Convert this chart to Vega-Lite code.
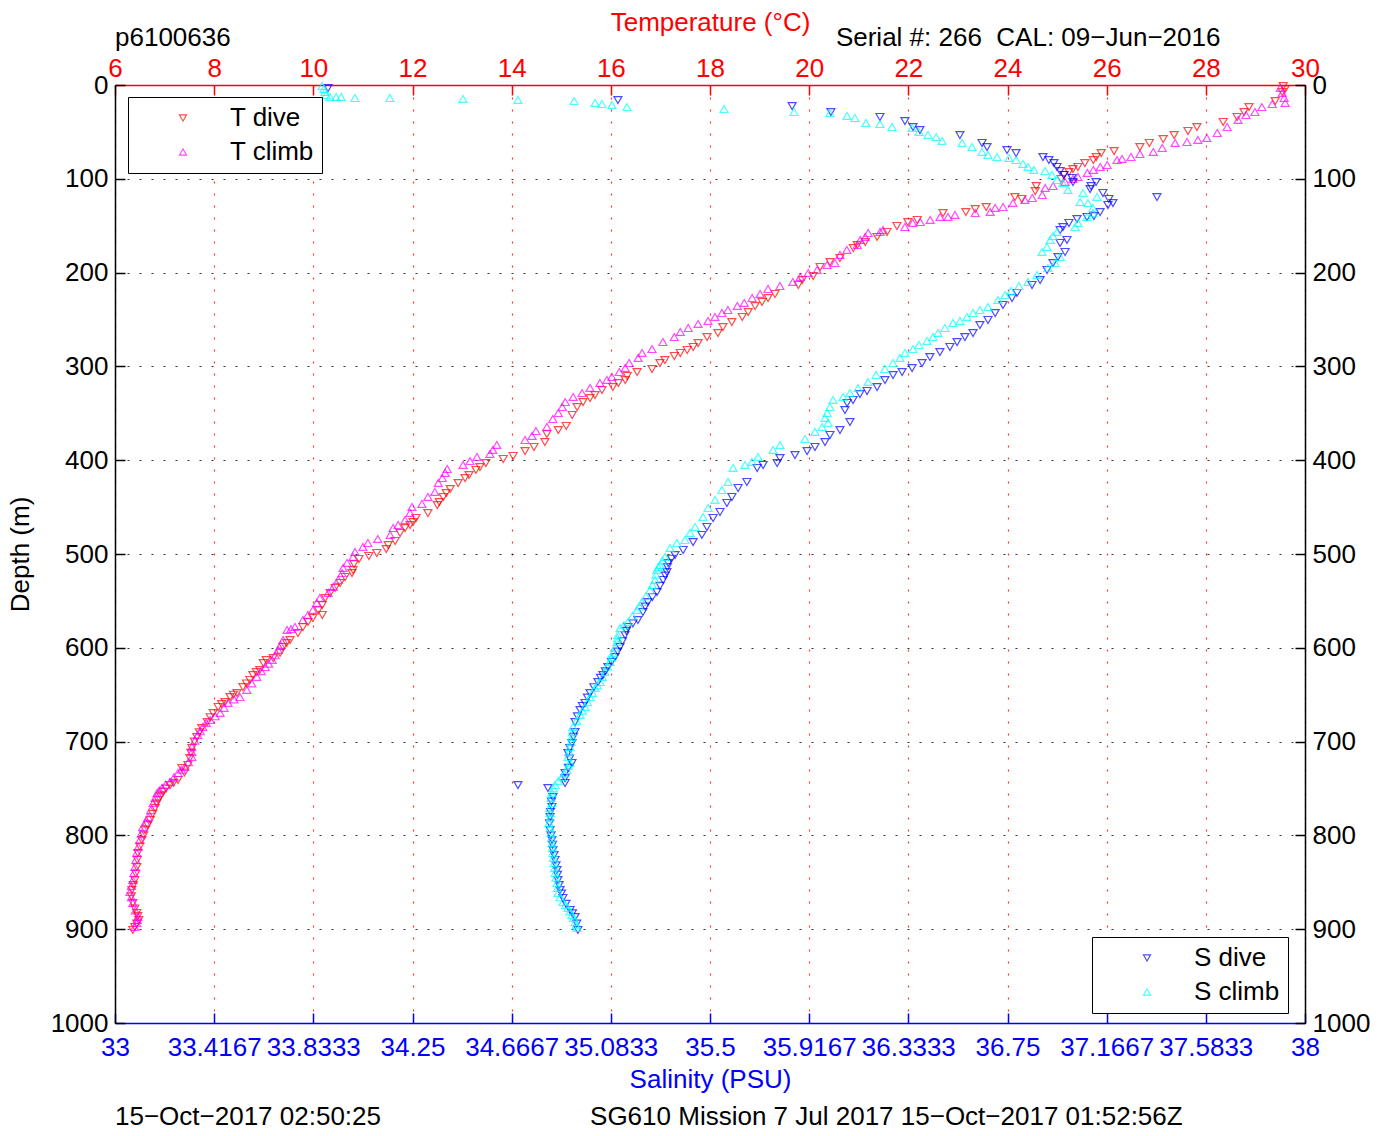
{
  "$schema": "https://vega.github.io/schema/vega-lite/v6.json",
  "width": 1190,
  "height": 938,
  "autosize": {"type": "none"},
  "padding": {"left": 115, "top": 85, "right": 85, "bottom": 113},
  "background": "white",
  "config": {
    "font": "Liberation Sans",
    "view": {"stroke": null},
    "axis": {"labelFont": "Liberation Sans", "titleFont": "Liberation Sans", "titleFontWeight": "normal", "labelFontSize": 26, "titleFontSize": 26, "labelFlush": false, "labelOverlap": false, "labelBound": false, "tickSize": -10, "tickWidth": 1.5, "domainWidth": 1.5, "labelPadding": 17}
  },
  "datasets": {
    "temp": [
      {"series":"T dive","temperature":29.60,"depth":4.3},{"series":"T dive","temperature":29.56,"depth":1.1},{"series":"T dive","temperature":29.54,"depth":7.5},{"series":"T dive","temperature":29.40,"depth":17.1},{"series":"T dive","temperature":28.87,"depth":23.5},{"series":"T dive","temperature":28.77,"depth":28.8},{"series":"T dive","temperature":28.63,"depth":34.1},{"series":"T dive","temperature":28.35,"depth":39.4},{"series":"T dive","temperature":27.82,"depth":44.8},{"series":"T dive","temperature":27.64,"depth":49.0},{"series":"T dive","temperature":27.36,"depth":53.3},{"series":"T dive","temperature":27.14,"depth":57.6},{"series":"T dive","temperature":26.86,"depth":61.8},{"series":"T dive","temperature":26.67,"depth":66.1},{"series":"T dive","temperature":26.15,"depth":70.4},{"series":"T dive","temperature":25.89,"depth":72.5},{"series":"T dive","temperature":25.79,"depth":76.8},{"series":"T dive","temperature":25.73,"depth":80.0},{"series":"T dive","temperature":25.56,"depth":83.2},{"series":"T dive","temperature":25.42,"depth":87.4},{"series":"T dive","temperature":25.32,"depth":89.6},{"series":"T dive","temperature":25.24,"depth":92.8},{"series":"T dive","temperature":25.14,"depth":95.9},{"series":"T dive","temperature":25.08,"depth":100.2},{"series":"T dive","temperature":24.58,"depth":107.7},{"series":"T dive","temperature":24.56,"depth":113.0},{"series":"T dive","temperature":24.15,"depth":119.4},{"series":"T dive","temperature":24.29,"depth":121.5},{"series":"T dive","temperature":23.57,"depth":130.1},{"series":"T dive","temperature":23.35,"depth":132.2},{"series":"T dive","temperature":23.16,"depth":135.4},{"series":"T dive","temperature":22.70,"depth":136.5},{"series":"T dive","temperature":22.18,"depth":143.9},{"series":"T dive","temperature":21.99,"depth":146.1},{"series":"T dive","temperature":21.77,"depth":150.3},{"series":"T dive","temperature":21.57,"depth":156.7},{"series":"T dive","temperature":21.37,"depth":162.0},{"series":"T dive","temperature":21.13,"depth":167.4},{"series":"T dive","temperature":20.97,"depth":170.6},{"series":"T dive","temperature":20.89,"depth":173.8},{"series":"T dive","temperature":20.62,"depth":184.4},{"series":"T dive","temperature":20.42,"depth":188.7},{"series":"T dive","temperature":20.22,"depth":194.0},{"series":"T dive","temperature":20.08,"depth":203.6},{"series":"T dive","temperature":19.86,"depth":207.9},{"series":"T dive","temperature":19.78,"depth":213.2},{"series":"T dive","temperature":19.31,"depth":222.8},{"series":"T dive","temperature":19.17,"depth":227.1},{"series":"T dive","temperature":19.05,"depth":231.3},{"series":"T dive","temperature":18.91,"depth":235.6},{"series":"T dive","temperature":18.77,"depth":242.0},{"series":"T dive","temperature":18.65,"depth":247.3},{"series":"T dive","temperature":18.44,"depth":252.7},{"series":"T dive","temperature":18.26,"depth":258.0},{"series":"T dive","temperature":18.16,"depth":264.4},{"series":"T dive","temperature":17.94,"depth":268.7},{"series":"T dive","temperature":17.76,"depth":275.1},{"series":"T dive","temperature":17.66,"depth":279.3},{"series":"T dive","temperature":17.54,"depth":282.5},{"series":"T dive","temperature":17.40,"depth":285.7},{"series":"T dive","temperature":17.28,"depth":288.9},{"series":"T dive","temperature":17.09,"depth":293.2},{"series":"T dive","temperature":16.99,"depth":296.4},{"series":"T dive","temperature":16.83,"depth":302.8},{"series":"T dive","temperature":16.53,"depth":306.0},{"series":"T dive","temperature":16.33,"depth":310.2},{"series":"T dive","temperature":16.29,"depth":314.5},{"series":"T dive","temperature":16.15,"depth":317.7},{"series":"T dive","temperature":16.04,"depth":322.0},{"series":"T dive","temperature":15.82,"depth":325.2},{"series":"T dive","temperature":15.68,"depth":330.5},{"series":"T dive","temperature":15.58,"depth":333.7},{"series":"T dive","temperature":15.44,"depth":338.0},{"series":"T dive","temperature":15.32,"depth":343.3},{"series":"T dive","temperature":15.22,"depth":351.8},{"series":"T dive","temperature":15.10,"depth":363.5},{"series":"T dive","temperature":14.94,"depth":367.8},{"series":"T dive","temperature":14.71,"depth":372.1},{"series":"T dive","temperature":14.67,"depth":380.6},{"series":"T dive","temperature":14.45,"depth":385.9},{"series":"T dive","temperature":14.27,"depth":390.2},{"series":"T dive","temperature":14.03,"depth":395.5},{"series":"T dive","temperature":13.83,"depth":398.7},{"series":"T dive","temperature":13.48,"depth":403.0},{"series":"T dive","temperature":13.36,"depth":407.3},{"series":"T dive","temperature":13.28,"depth":410.4},{"series":"T dive","temperature":13.14,"depth":415.8},{"series":"T dive","temperature":13.06,"depth":419.0},{"series":"T dive","temperature":12.92,"depth":424.3},{"series":"T dive","temperature":12.76,"depth":430.7},{"series":"T dive","temperature":12.68,"depth":435.0},{"series":"T dive","temperature":12.62,"depth":439.2},{"series":"T dive","temperature":12.54,"depth":444.6},{"series":"T dive","temperature":12.50,"depth":447.8},{"series":"T dive","temperature":12.31,"depth":456.3},{"series":"T dive","temperature":12.07,"depth":461.6},{"series":"T dive","temperature":12.01,"depth":465.9},{"series":"T dive","temperature":11.95,"depth":469.1},{"series":"T dive","temperature":11.85,"depth":472.3},{"series":"T dive","temperature":11.75,"depth":477.6},{"series":"T dive","temperature":11.65,"depth":486.1},{"series":"T dive","temperature":11.51,"depth":490.4},{"series":"T dive","temperature":11.47,"depth":494.7},{"series":"T dive","temperature":11.28,"depth":498.9},{"series":"T dive","temperature":11.12,"depth":502.1},{"series":"T dive","temperature":10.92,"depth":505.3},{"series":"T dive","temperature":10.82,"depth":510.7},{"series":"T dive","temperature":10.80,"depth":517.1},{"series":"T dive","temperature":10.78,"depth":520.3},{"series":"T dive","temperature":10.64,"depth":524.5},{"series":"T dive","temperature":10.54,"depth":530.9},{"series":"T dive","temperature":10.44,"depth":536.2},{"series":"T dive","temperature":10.34,"depth":541.6},{"series":"T dive","temperature":10.24,"depth":546.9},{"series":"T dive","temperature":10.18,"depth":554.4},{"series":"T dive","temperature":10.18,"depth":565.0},{"series":"T dive","temperature":9.99,"depth":568.2},{"series":"T dive","temperature":9.89,"depth":572.5},{"series":"T dive","temperature":9.69,"depth":584.2},{"series":"T dive","temperature":9.53,"depth":591.7},{"series":"T dive","temperature":9.39,"depth":599.1},{"series":"T dive","temperature":9.33,"depth":605.5},{"series":"T dive","temperature":9.19,"depth":610.9},{"series":"T dive","temperature":8.99,"depth":616.2},{"series":"T dive","temperature":8.92,"depth":623.7},{"series":"T dive","temperature":8.78,"depth":629.0},{"series":"T dive","temperature":8.72,"depth":634.3},{"series":"T dive","temperature":8.58,"depth":641.8},{"series":"T dive","temperature":8.46,"depth":648.2},{"series":"T dive","temperature":8.32,"depth":652.5},{"series":"T dive","temperature":8.22,"depth":657.8},{"series":"T dive","temperature":8.08,"depth":663.1},{"series":"T dive","temperature":7.98,"depth":669.5},{"series":"T dive","temperature":7.86,"depth":679.1},{"series":"T dive","temperature":7.75,"depth":685.5},{"series":"T dive","temperature":7.65,"depth":695.1},{"series":"T dive","temperature":7.55,"depth":706.8},{"series":"T dive","temperature":7.51,"depth":717.5},{"series":"T dive","temperature":7.47,"depth":724.9},{"series":"T dive","temperature":7.35,"depth":728.1},{"series":"T dive","temperature":7.27,"depth":740.9},{"series":"T dive","temperature":7.11,"depth":746.3},{"series":"T dive","temperature":6.97,"depth":753.7},{"series":"T dive","temperature":6.87,"depth":762.3},{"series":"T dive","temperature":6.81,"depth":770.8},{"series":"T dive","temperature":6.71,"depth":783.6},{"series":"T dive","temperature":6.61,"depth":794.3},{"series":"T dive","temperature":6.54,"depth":804.9},{"series":"T dive","temperature":6.46,"depth":818.8},{"series":"T dive","temperature":6.44,"depth":833.7},{"series":"T dive","temperature":6.40,"depth":847.6},{"series":"T dive","temperature":6.34,"depth":858.2},{"series":"T dive","temperature":6.36,"depth":872.1},{"series":"T dive","temperature":6.44,"depth":882.7},{"series":"T dive","temperature":6.48,"depth":890.2},{"series":"T dive","temperature":6.40,"depth":897.6},{"series":"T dive","temperature":6.36,"depth":900.8},
      {"series":"T dive","temperature":10.10,"depth":560},{"series":"T dive","temperature":9.79,"depth":578},{"series":"T dive","temperature":9.46,"depth":595},{"series":"T dive","temperature":9.05,"depth":613},{"series":"T dive","temperature":8.85,"depth":626},{"series":"T dive","temperature":8.65,"depth":638},{"series":"T dive","temperature":8.39,"depth":650},{"series":"T dive","temperature":8.15,"depth":660},{"series":"T dive","temperature":7.92,"depth":674},{"series":"T dive","temperature":7.70,"depth":690},{"series":"T dive","temperature":7.60,"depth":700},{"series":"T dive","temperature":7.53,"depth":712},{"series":"T dive","temperature":7.40,"depth":733},{"series":"T dive","temperature":7.18,"depth":744},{"series":"T dive","temperature":7.03,"depth":750},{"series":"T dive","temperature":6.92,"depth":758},{"series":"T dive","temperature":6.84,"depth":766},{"series":"T dive","temperature":6.76,"depth":777},{"series":"T dive","temperature":6.66,"depth":789},{"series":"T dive","temperature":6.58,"depth":800},{"series":"T dive","temperature":6.50,"depth":812},{"series":"T dive","temperature":6.45,"depth":826},{"series":"T dive","temperature":6.42,"depth":841},{"series":"T dive","temperature":6.37,"depth":853},{"series":"T dive","temperature":6.33,"depth":865},{"series":"T dive","temperature":6.40,"depth":878},{"series":"T dive","temperature":6.46,"depth":886},{"series":"T dive","temperature":6.44,"depth":894},
      {"series":"T climb","temperature":29.50,"depth":3.2},{"series":"T climb","temperature":29.54,"depth":8.5},{"series":"T climb","temperature":29.58,"depth":13.9},{"series":"T climb","temperature":29.60,"depth":19.2},{"series":"T climb","temperature":29.34,"depth":20.3},{"series":"T climb","temperature":29.13,"depth":23.5},{"series":"T climb","temperature":28.99,"depth":28.8},{"series":"T climb","temperature":28.81,"depth":32.0},{"series":"T climb","temperature":28.65,"depth":37.3},{"series":"T climb","temperature":28.43,"depth":44.8},{"series":"T climb","temperature":28.23,"depth":51.2},{"series":"T climb","temperature":28.02,"depth":56.5},{"series":"T climb","temperature":27.84,"depth":58.6},{"series":"T climb","temperature":27.62,"depth":60.8},{"series":"T climb","temperature":27.38,"depth":61.8},{"series":"T climb","temperature":27.12,"depth":67.2},{"series":"T climb","temperature":26.94,"depth":71.4},{"series":"T climb","temperature":26.67,"depth":73.6},{"series":"T climb","temperature":26.49,"depth":76.8},{"series":"T climb","temperature":26.31,"depth":78.9},{"series":"T climb","temperature":26.21,"depth":80.0},{"series":"T climb","temperature":26.01,"depth":85.3},{"series":"T climb","temperature":25.87,"depth":87.4},{"series":"T climb","temperature":25.73,"depth":90.6},{"series":"T climb","temperature":25.61,"depth":93.8},{"series":"T climb","temperature":25.42,"depth":98.1},{"series":"T climb","temperature":25.32,"depth":100.2},{"series":"T climb","temperature":25.16,"depth":103.4},{"series":"T climb","temperature":24.92,"depth":107.7},{"series":"T climb","temperature":24.76,"depth":109.8},{"series":"T climb","temperature":24.70,"depth":117.3},{"series":"T climb","temperature":24.50,"depth":120.5},{"series":"T climb","temperature":24.35,"depth":122.6},{"series":"T climb","temperature":24.11,"depth":125.8},{"series":"T climb","temperature":23.91,"depth":130.1},{"series":"T climb","temperature":23.75,"depth":131.1},{"series":"T climb","temperature":23.65,"depth":135.4},{"series":"T climb","temperature":23.35,"depth":136.5},{"series":"T climb","temperature":22.94,"depth":138.6},{"series":"T climb","temperature":22.80,"depth":140.7},{"series":"T climb","temperature":22.64,"depth":140.7},{"series":"T climb","temperature":22.44,"depth":143.9},{"series":"T climb","temperature":22.24,"depth":146.1},{"series":"T climb","temperature":22.09,"depth":147.1},{"series":"T climb","temperature":21.93,"depth":151.4},{"series":"T climb","temperature":21.49,"depth":154.6},{"series":"T climb","temperature":21.43,"depth":156.7},{"series":"T climb","temperature":21.19,"depth":157.8},{"series":"T climb","temperature":21.13,"depth":162.0},{"series":"T climb","temperature":21.03,"depth":165.2},{"series":"T climb","temperature":20.97,"depth":170.6},{"series":"T climb","temperature":20.76,"depth":175.9},{"series":"T climb","temperature":20.62,"depth":181.2},{"series":"T climb","temperature":20.52,"depth":189.8},{"series":"T climb","temperature":20.36,"depth":191.9},{"series":"T climb","temperature":20.16,"depth":197.2},{"series":"T climb","temperature":19.98,"depth":200.4},{"series":"T climb","temperature":19.82,"depth":204.7},{"series":"T climb","temperature":19.67,"depth":210.0},{"series":"T climb","temperature":19.41,"depth":214.3},{"series":"T climb","temperature":19.17,"depth":217.5},{"series":"T climb","temperature":19.01,"depth":222.8},{"series":"T climb","temperature":18.85,"depth":227.1},{"series":"T climb","temperature":18.69,"depth":232.4},{"series":"T climb","temperature":18.55,"depth":235.6},{"series":"T climb","temperature":18.36,"depth":239.9},{"series":"T climb","temperature":18.24,"depth":243.1},{"series":"T climb","temperature":18.10,"depth":247.3},{"series":"T climb","temperature":17.96,"depth":251.6},{"series":"T climb","temperature":17.76,"depth":254.8},{"series":"T climb","temperature":17.56,"depth":259.1},{"series":"T climb","temperature":17.40,"depth":263.3},{"series":"T climb","temperature":17.28,"depth":268.7},{"series":"T climb","temperature":17.05,"depth":274.0},{"series":"T climb","temperature":16.83,"depth":281.5},{"series":"T climb","temperature":16.63,"depth":285.7},{"series":"T climb","temperature":16.55,"depth":291.0},{"series":"T climb","temperature":16.37,"depth":296.4},{"series":"T climb","temperature":16.29,"depth":301.7},{"series":"T climb","temperature":16.17,"depth":306.0},{"series":"T climb","temperature":16.02,"depth":311.3},{"series":"T climb","temperature":15.92,"depth":314.5},{"series":"T climb","temperature":15.78,"depth":317.7},{"series":"T climb","temperature":15.58,"depth":323.0},{"series":"T climb","temperature":15.42,"depth":328.4},{"series":"T climb","temperature":15.24,"depth":332.6},{"series":"T climb","temperature":15.08,"depth":338.0},{"series":"T climb","temperature":15.02,"depth":343.3},{"series":"T climb","temperature":14.94,"depth":349.7},{"series":"T climb","temperature":14.83,"depth":356.1},{"series":"T climb","temperature":14.71,"depth":364.6},{"series":"T climb","temperature":14.49,"depth":368.9},{"series":"T climb","temperature":14.41,"depth":374.2},{"series":"T climb","temperature":14.27,"depth":378.5},{"series":"T climb","temperature":13.70,"depth":383.8},{"series":"T climb","temperature":13.62,"depth":389.1},{"series":"T climb","temperature":13.56,"depth":393.4},{"series":"T climb","temperature":13.30,"depth":396.6},{"series":"T climb","temperature":13.16,"depth":400.9},{"series":"T climb","temperature":13.02,"depth":405.1},{"series":"T climb","temperature":12.70,"depth":409.4},{"series":"T climb","temperature":12.66,"depth":413.6},{"series":"T climb","temperature":12.60,"depth":419.0},{"series":"T climb","temperature":12.52,"depth":424.3},{"series":"T climb","temperature":12.45,"depth":433.9},{"series":"T climb","temperature":12.31,"depth":439.2},{"series":"T climb","temperature":12.19,"depth":446.7},{"series":"T climb","temperature":11.99,"depth":449.9},{"series":"T climb","temperature":11.95,"depth":456.3},{"series":"T climb","temperature":11.85,"depth":463.8},{"series":"T climb","temperature":11.71,"depth":469.1},{"series":"T climb","temperature":11.61,"depth":472.3},{"series":"T climb","temperature":11.55,"depth":479.7},{"series":"T climb","temperature":11.30,"depth":484.0},{"series":"T climb","temperature":11.10,"depth":488.3},{"series":"T climb","temperature":11.00,"depth":492.5},{"series":"T climb","temperature":10.84,"depth":497.9},{"series":"T climb","temperature":10.80,"depth":503.2},{"series":"T climb","temperature":10.68,"depth":509.6},{"series":"T climb","temperature":10.60,"depth":514.9},{"series":"T climb","temperature":10.58,"depth":520.3},{"series":"T climb","temperature":10.50,"depth":527.7},{"series":"T climb","temperature":10.40,"depth":535.2},{"series":"T climb","temperature":10.30,"depth":541.6},{"series":"T climb","temperature":10.13,"depth":546.9},{"series":"T climb","temperature":10.07,"depth":552.2},{"series":"T climb","temperature":9.99,"depth":559.7},{"series":"T climb","temperature":9.79,"depth":570.4},{"series":"T climb","temperature":9.63,"depth":577.8},{"series":"T climb","temperature":9.47,"depth":581.0},{"series":"T climb","temperature":9.39,"depth":591.7},{"series":"T climb","temperature":9.29,"depth":602.3},{"series":"T climb","temperature":9.17,"depth":613.0},{"series":"T climb","temperature":9.03,"depth":620.5},{"series":"T climb","temperature":8.86,"depth":631.1},{"series":"T climb","temperature":8.66,"depth":645.0},{"series":"T climb","temperature":8.52,"depth":652.5},{"series":"T climb","temperature":8.28,"depth":658.8},{"series":"T climb","temperature":8.12,"depth":669.5},{"series":"T climb","temperature":7.92,"depth":677.0},{"series":"T climb","temperature":7.77,"depth":684.4},{"series":"T climb","temperature":7.67,"depth":693.0},{"series":"T climb","temperature":7.55,"depth":705.8},{"series":"T climb","temperature":7.55,"depth":716.4},{"series":"T climb","temperature":7.41,"depth":727.1},{"series":"T climb","temperature":7.27,"depth":733.5},{"series":"T climb","temperature":7.11,"depth":743.1},{"series":"T climb","temperature":6.95,"depth":749.5},{"series":"T climb","temperature":6.85,"depth":754.8},{"series":"T climb","temperature":6.77,"depth":765.5},{"series":"T climb","temperature":6.67,"depth":780.4},{"series":"T climb","temperature":6.56,"depth":791.1},{"series":"T climb","temperature":6.50,"depth":804.9},{"series":"T climb","temperature":6.44,"depth":818.8},{"series":"T climb","temperature":6.40,"depth":833.7},{"series":"T climb","temperature":6.36,"depth":847.6},{"series":"T climb","temperature":6.30,"depth":860.4},{"series":"T climb","temperature":6.36,"depth":872.1},{"series":"T climb","temperature":6.46,"depth":887.0},{"series":"T climb","temperature":6.44,"depth":893.4},{"series":"T climb","temperature":6.40,"depth":897.6},
      {"series":"T climb","temperature":9.89,"depth":565},{"series":"T climb","temperature":9.55,"depth":580},{"series":"T climb","temperature":9.34,"depth":597},{"series":"T climb","temperature":9.23,"depth":608},{"series":"T climb","temperature":9.10,"depth":617},{"series":"T climb","temperature":8.95,"depth":625},{"series":"T climb","temperature":8.76,"depth":638},{"series":"T climb","temperature":8.40,"depth":655},{"series":"T climb","temperature":8.20,"depth":664},{"series":"T climb","temperature":8.02,"depth":673},{"series":"T climb","temperature":7.84,"depth":680},{"series":"T climb","temperature":7.72,"depth":689},{"series":"T climb","temperature":7.61,"depth":699},{"series":"T climb","temperature":7.55,"depth":711},{"series":"T climb","temperature":7.48,"depth":722},{"series":"T climb","temperature":7.34,"depth":730},{"series":"T climb","temperature":7.19,"depth":738},{"series":"T climb","temperature":7.02,"depth":746},{"series":"T climb","temperature":6.90,"depth":752},{"series":"T climb","temperature":6.81,"depth":760},{"series":"T climb","temperature":6.72,"depth":773},{"series":"T climb","temperature":6.62,"depth":786},{"series":"T climb","temperature":6.53,"depth":798},{"series":"T climb","temperature":6.47,"depth":812},{"series":"T climb","temperature":6.42,"depth":826},{"series":"T climb","temperature":6.38,"depth":840},{"series":"T climb","temperature":6.33,"depth":854},{"series":"T climb","temperature":6.33,"depth":866},{"series":"T climb","temperature":6.41,"depth":880},{"series":"T climb","temperature":6.45,"depth":890}
    ],
    "sal": [
      {"series":"S dive","salinity":33.895,"depth":3.2},{"series":"S dive","salinity":35.113,"depth":16.0},{"series":"S dive","salinity":35.845,"depth":22.4},{"series":"S dive","salinity":36.008,"depth":28.8},{"series":"S dive","salinity":36.214,"depth":34.1},{"series":"S dive","salinity":36.319,"depth":38.4},{"series":"S dive","salinity":36.353,"depth":44.8},{"series":"S dive","salinity":36.382,"depth":48.0},{"series":"S dive","salinity":36.550,"depth":53.3},{"series":"S dive","salinity":36.643,"depth":61.8},{"series":"S dive","salinity":36.664,"depth":66.1},{"series":"S dive","salinity":36.748,"depth":69.3},{"series":"S dive","salinity":36.786,"depth":72.5},{"series":"S dive","salinity":36.899,"depth":76.8},{"series":"S dive","salinity":36.924,"depth":80.0},{"series":"S dive","salinity":36.945,"depth":83.2},{"series":"S dive","salinity":36.958,"depth":87.4},{"series":"S dive","salinity":36.971,"depth":91.7},{"series":"S dive","salinity":36.987,"depth":95.9},{"series":"S dive","salinity":37.021,"depth":99.1},{"series":"S dive","salinity":37.025,"depth":103.4},{"series":"S dive","salinity":37.122,"depth":103.4},{"series":"S dive","salinity":37.101,"depth":107.7},{"series":"S dive","salinity":37.097,"depth":110.9},{"series":"S dive","salinity":37.151,"depth":115.1},{"series":"S dive","salinity":37.176,"depth":121.5},{"series":"S dive","salinity":37.193,"depth":125.8},{"series":"S dive","salinity":37.172,"depth":127.9},{"series":"S dive","salinity":37.378,"depth":119.4},{"series":"S dive","salinity":37.139,"depth":135.4},{"series":"S dive","salinity":37.113,"depth":139.7},{"series":"S dive","salinity":37.084,"depth":140.7},{"series":"S dive","salinity":37.042,"depth":142.9},{"series":"S dive","salinity":37.008,"depth":147.1},{"series":"S dive","salinity":36.983,"depth":151.4},{"series":"S dive","salinity":36.971,"depth":154.6},{"series":"S dive","salinity":37.000,"depth":165.2},{"series":"S dive","salinity":36.971,"depth":168.4},{"series":"S dive","salinity":36.992,"depth":178.0},{"series":"S dive","salinity":36.962,"depth":183.4},{"series":"S dive","salinity":36.941,"depth":189.8},{"series":"S dive","salinity":36.916,"depth":197.2},{"series":"S dive","salinity":36.887,"depth":207.9},{"series":"S dive","salinity":36.853,"depth":213.2},{"series":"S dive","salinity":36.790,"depth":221.7},{"series":"S dive","salinity":36.769,"depth":227.1},{"series":"S dive","salinity":36.731,"depth":234.5},{"series":"S dive","salinity":36.698,"depth":243.1},{"series":"S dive","salinity":36.668,"depth":250.5},{"series":"S dive","salinity":36.634,"depth":255.9},{"series":"S dive","salinity":36.605,"depth":264.4},{"series":"S dive","salinity":36.571,"depth":268.7},{"series":"S dive","salinity":36.538,"depth":274.0},{"series":"S dive","salinity":36.508,"depth":279.3},{"series":"S dive","salinity":36.466,"depth":284.7},{"series":"S dive","salinity":36.424,"depth":290.0},{"series":"S dive","salinity":36.391,"depth":296.4},{"series":"S dive","salinity":36.349,"depth":301.7},{"series":"S dive","salinity":36.307,"depth":306.0},{"series":"S dive","salinity":36.269,"depth":309.2},{"series":"S dive","salinity":36.235,"depth":314.5},{"series":"S dive","salinity":36.202,"depth":322.0},{"series":"S dive","salinity":36.160,"depth":326.2},{"series":"S dive","salinity":36.130,"depth":329.4},{"series":"S dive","salinity":36.101,"depth":335.8},{"series":"S dive","salinity":36.076,"depth":339.0},{"series":"S dive","salinity":36.067,"depth":346.5},{"series":"S dive","salinity":36.088,"depth":359.3},{"series":"S dive","salinity":36.046,"depth":367.8},{"series":"S dive","salinity":36.004,"depth":373.1},{"series":"S dive","salinity":35.983,"depth":380.6},{"series":"S dive","salinity":35.941,"depth":385.9},{"series":"S dive","salinity":35.908,"depth":390.2},{"series":"S dive","salinity":35.857,"depth":394.5},{"series":"S dive","salinity":35.794,"depth":397.7},{"series":"S dive","salinity":35.782,"depth":403.0},{"series":"S dive","salinity":35.723,"depth":405.1},{"series":"S dive","salinity":35.698,"depth":408.3},{"series":"S dive","salinity":35.655,"depth":423.2},{"series":"S dive","salinity":35.618,"depth":429.6},{"series":"S dive","salinity":35.592,"depth":439.2},{"series":"S dive","salinity":35.571,"depth":445.6},{"series":"S dive","salinity":35.542,"depth":455.2},{"series":"S dive","salinity":35.513,"depth":461.6},{"series":"S dive","salinity":35.487,"depth":471.2},{"series":"S dive","salinity":35.466,"depth":479.7},{"series":"S dive","salinity":35.429,"depth":487.2},{"series":"S dive","salinity":35.387,"depth":495.7},{"series":"S dive","salinity":35.353,"depth":501.1},{"series":"S dive","salinity":35.324,"depth":509.6},{"series":"S dive","salinity":35.319,"depth":519.2},{"series":"S dive","salinity":35.303,"depth":527.7},{"series":"S dive","salinity":35.277,"depth":540.5},{"series":"S dive","salinity":35.239,"depth":551.2},{"series":"S dive","salinity":35.218,"depth":561.8},{"series":"S dive","salinity":35.197,"depth":570.4},{"series":"S dive","salinity":35.155,"depth":577.8},{"series":"S dive","salinity":35.143,"depth":586.4},{"series":"S dive","salinity":35.122,"depth":599.1},{"series":"S dive","salinity":35.101,"depth":609.8},{"series":"S dive","salinity":35.071,"depth":620.5},{"series":"S dive","salinity":35.050,"depth":629.0},{"series":"S dive","salinity":35.029,"depth":636.5},{"series":"S dive","salinity":34.996,"depth":648.2},{"series":"S dive","salinity":34.975,"depth":658.8},{"series":"S dive","salinity":34.954,"depth":666.3},{"series":"S dive","salinity":34.933,"depth":679.1},{"series":"S dive","salinity":34.933,"depth":689.8},{"series":"S dive","salinity":34.920,"depth":701.5},{"series":"S dive","salinity":34.903,"depth":712.2},{"series":"S dive","salinity":34.920,"depth":722.8},{"series":"S dive","salinity":34.891,"depth":733.5},{"series":"S dive","salinity":34.891,"depth":744.1},{"series":"S dive","salinity":34.819,"depth":749.5},{"series":"S dive","salinity":34.693,"depth":746.3},{"series":"S dive","salinity":34.840,"depth":759.1},{"series":"S dive","salinity":34.836,"depth":769.7},{"series":"S dive","salinity":34.828,"depth":780.4},{"series":"S dive","salinity":34.828,"depth":794.3},{"series":"S dive","salinity":34.836,"depth":804.9},{"series":"S dive","salinity":34.840,"depth":815.6},{"series":"S dive","salinity":34.849,"depth":826.2},{"series":"S dive","salinity":34.857,"depth":836.9},{"series":"S dive","salinity":34.861,"depth":847.6},{"series":"S dive","salinity":34.870,"depth":858.2},{"series":"S dive","salinity":34.882,"depth":866.7},{"series":"S dive","salinity":34.912,"depth":879.5},{"series":"S dive","salinity":34.933,"depth":887.0},{"series":"S dive","salinity":34.945,"depth":900.8},
      {"series":"S dive","salinity":35.338,"depth":505},{"series":"S dive","salinity":35.321,"depth":514},{"series":"S dive","salinity":35.312,"depth":523},{"series":"S dive","salinity":35.290,"depth":534},{"series":"S dive","salinity":35.258,"depth":546},{"series":"S dive","salinity":35.228,"depth":556},{"series":"S dive","salinity":35.176,"depth":574},{"series":"S dive","salinity":35.149,"depth":582},{"series":"S dive","salinity":35.132,"depth":593},{"series":"S dive","salinity":35.112,"depth":604},{"series":"S dive","salinity":35.086,"depth":615},{"series":"S dive","salinity":35.060,"depth":625},{"series":"S dive","salinity":35.040,"depth":632},{"series":"S dive","salinity":35.012,"depth":642},{"series":"S dive","salinity":34.985,"depth":653},{"series":"S dive","salinity":34.964,"depth":662},{"series":"S dive","salinity":34.943,"depth":673},{"series":"S dive","salinity":34.926,"depth":695},{"series":"S dive","salinity":34.911,"depth":707},{"series":"S dive","salinity":34.910,"depth":718},{"series":"S dive","salinity":34.905,"depth":728},{"series":"S dive","salinity":34.891,"depth":739},{"series":"S dive","salinity":34.834,"depth":764},{"series":"S dive","salinity":34.830,"depth":775},{"series":"S dive","salinity":34.826,"depth":787},{"series":"S dive","salinity":34.832,"depth":800},{"series":"S dive","salinity":34.838,"depth":810},{"series":"S dive","salinity":34.845,"depth":821},{"series":"S dive","salinity":34.853,"depth":832},{"series":"S dive","salinity":34.859,"depth":842},{"series":"S dive","salinity":34.866,"depth":853},{"series":"S dive","salinity":34.876,"depth":862},{"series":"S dive","salinity":34.895,"depth":873},{"series":"S dive","salinity":34.922,"depth":883},{"series":"S dive","salinity":34.940,"depth":894},
      {"series":"S climb","salinity":33.870,"depth":1.1},{"series":"S climb","salinity":33.878,"depth":4.3},{"series":"S climb","salinity":33.882,"depth":7.5},{"series":"S climb","salinity":33.887,"depth":10.7},{"series":"S climb","salinity":33.903,"depth":12.8},{"series":"S climb","salinity":33.929,"depth":12.8},{"series":"S climb","salinity":33.950,"depth":12.8},{"series":"S climb","salinity":34.008,"depth":13.9},{"series":"S climb","salinity":34.155,"depth":13.9},{"series":"S climb","salinity":34.462,"depth":14.9},{"series":"S climb","salinity":34.693,"depth":16.0},{"series":"S climb","salinity":34.929,"depth":17.1},{"series":"S climb","salinity":35.017,"depth":19.2},{"series":"S climb","salinity":35.046,"depth":20.3},{"series":"S climb","salinity":35.088,"depth":21.3},{"series":"S climb","salinity":35.151,"depth":23.5},{"series":"S climb","salinity":35.559,"depth":25.6},{"series":"S climb","salinity":35.853,"depth":28.8},{"series":"S climb","salinity":36.004,"depth":29.9},{"series":"S climb","salinity":36.076,"depth":33.0},{"series":"S climb","salinity":36.109,"depth":35.2},{"series":"S climb","salinity":36.155,"depth":40.5},{"series":"S climb","salinity":36.214,"depth":41.6},{"series":"S climb","salinity":36.265,"depth":44.8},{"series":"S climb","salinity":36.349,"depth":45.8},{"series":"S climb","salinity":36.378,"depth":50.1},{"series":"S climb","salinity":36.416,"depth":53.3},{"series":"S climb","salinity":36.450,"depth":55.4},{"series":"S climb","salinity":36.475,"depth":59.7},{"series":"S climb","salinity":36.559,"depth":61.8},{"series":"S climb","salinity":36.601,"depth":66.1},{"series":"S climb","salinity":36.643,"depth":71.4},{"series":"S climb","salinity":36.668,"depth":74.6},{"series":"S climb","salinity":36.706,"depth":76.8},{"series":"S climb","salinity":36.756,"depth":77.8},{"series":"S climb","salinity":36.786,"depth":80.0},{"series":"S climb","salinity":36.815,"depth":84.2},{"series":"S climb","salinity":36.836,"depth":87.4},{"series":"S climb","salinity":36.861,"depth":90.6},{"series":"S climb","salinity":36.908,"depth":91.7},{"series":"S climb","salinity":36.937,"depth":95.9},{"series":"S climb","salinity":36.958,"depth":101.3},{"series":"S climb","salinity":36.983,"depth":104.5},{"series":"S climb","salinity":37.004,"depth":111.9},{"series":"S climb","salinity":37.067,"depth":115.1},{"series":"S climb","salinity":37.126,"depth":119.4},{"series":"S climb","salinity":37.055,"depth":124.7},{"series":"S climb","salinity":37.088,"depth":125.8},{"series":"S climb","salinity":37.109,"depth":131.1},{"series":"S climb","salinity":37.109,"depth":136.5},{"series":"S climb","salinity":37.084,"depth":140.7},{"series":"S climb","salinity":37.046,"depth":147.1},{"series":"S climb","salinity":37.034,"depth":151.4},{"series":"S climb","salinity":36.958,"depth":156.7},{"series":"S climb","salinity":36.941,"depth":161.0},{"series":"S climb","salinity":36.929,"depth":165.2},{"series":"S climb","salinity":36.916,"depth":172.7},{"series":"S climb","salinity":36.895,"depth":178.0},{"series":"S climb","salinity":36.971,"depth":183.4},{"series":"S climb","salinity":36.950,"depth":189.8},{"series":"S climb","salinity":36.920,"depth":195.1},{"series":"S climb","salinity":36.874,"depth":202.6},{"series":"S climb","salinity":36.836,"depth":210.0},{"series":"S climb","salinity":36.798,"depth":214.3},{"series":"S climb","salinity":36.765,"depth":219.6},{"series":"S climb","salinity":36.740,"depth":223.9},{"series":"S climb","salinity":36.710,"depth":229.2},{"series":"S climb","salinity":36.668,"depth":236.7},{"series":"S climb","salinity":36.634,"depth":239.9},{"series":"S climb","salinity":36.605,"depth":243.1},{"series":"S climb","salinity":36.580,"depth":247.3},{"series":"S climb","salinity":36.550,"depth":251.6},{"series":"S climb","salinity":36.521,"depth":253.7},{"series":"S climb","salinity":36.487,"depth":259.1},{"series":"S climb","salinity":36.458,"depth":264.4},{"series":"S climb","salinity":36.437,"depth":268.7},{"series":"S climb","salinity":36.412,"depth":272.9},{"series":"S climb","salinity":36.378,"depth":277.2},{"series":"S climb","salinity":36.353,"depth":281.5},{"series":"S climb","salinity":36.319,"depth":285.7},{"series":"S climb","salinity":36.298,"depth":291.0},{"series":"S climb","salinity":36.269,"depth":296.4},{"series":"S climb","salinity":36.235,"depth":302.8},{"series":"S climb","salinity":36.198,"depth":309.2},{"series":"S climb","salinity":36.164,"depth":316.6},{"series":"S climb","salinity":36.122,"depth":323.0},{"series":"S climb","salinity":36.088,"depth":328.4},{"series":"S climb","salinity":36.059,"depth":332.6},{"series":"S climb","salinity":36.017,"depth":335.8},{"series":"S climb","salinity":36.004,"depth":343.3},{"series":"S climb","salinity":35.992,"depth":349.7},{"series":"S climb","salinity":35.983,"depth":355.0},{"series":"S climb","salinity":35.996,"depth":360.3},{"series":"S climb","salinity":35.971,"depth":364.6},{"series":"S climb","salinity":35.941,"depth":369.9},{"series":"S climb","salinity":35.899,"depth":377.4},{"series":"S climb","salinity":35.794,"depth":383.8},{"series":"S climb","salinity":35.765,"depth":389.1},{"series":"S climb","salinity":35.702,"depth":396.6},{"series":"S climb","salinity":35.676,"depth":401.9},{"series":"S climb","salinity":35.647,"depth":405.1},{"series":"S climb","salinity":35.597,"depth":408.3},{"series":"S climb","salinity":35.576,"depth":423.2},{"series":"S climb","salinity":35.550,"depth":431.8},{"series":"S climb","salinity":35.521,"depth":442.4},{"series":"S climb","salinity":35.492,"depth":451.0},{"series":"S climb","salinity":35.471,"depth":460.6},{"series":"S climb","salinity":35.437,"depth":471.2},{"series":"S climb","salinity":35.416,"depth":477.6},{"series":"S climb","salinity":35.395,"depth":485.1},{"series":"S climb","salinity":35.361,"depth":488.3},{"series":"S climb","salinity":35.332,"depth":493.6},{"series":"S climb","salinity":35.311,"depth":503.2},{"series":"S climb","salinity":35.290,"depth":511.7},{"series":"S climb","salinity":35.277,"depth":517.1},{"series":"S climb","salinity":35.269,"depth":527.7},{"series":"S climb","salinity":35.248,"depth":538.4},{"series":"S climb","salinity":35.214,"depth":551.2},{"series":"S climb","salinity":35.193,"depth":559.7},{"series":"S climb","salinity":35.155,"depth":572.5},{"series":"S climb","salinity":35.122,"depth":578.9},{"series":"S climb","salinity":35.113,"depth":586.4},{"series":"S climb","salinity":35.109,"depth":593.8},{"series":"S climb","salinity":35.092,"depth":605.5},{"series":"S climb","salinity":35.080,"depth":615.1},{"series":"S climb","salinity":35.059,"depth":625.8},{"series":"S climb","salinity":35.038,"depth":636.5},{"series":"S climb","salinity":35.017,"depth":642.8},{"series":"S climb","salinity":34.996,"depth":652.5},{"series":"S climb","salinity":34.975,"depth":663.1},{"series":"S climb","salinity":34.954,"depth":671.6},{"series":"S climb","salinity":34.924,"depth":684.4},{"series":"S climb","salinity":34.920,"depth":695.1},{"series":"S climb","salinity":34.912,"depth":705.8},{"series":"S climb","salinity":34.903,"depth":716.4},{"series":"S climb","salinity":34.912,"depth":722.8},{"series":"S climb","salinity":34.899,"depth":730.3},{"series":"S climb","salinity":34.878,"depth":737.7},{"series":"S climb","salinity":34.849,"depth":746.3},{"series":"S climb","salinity":34.836,"depth":754.8},{"series":"S climb","salinity":34.836,"depth":765.5},{"series":"S climb","salinity":34.828,"depth":776.1},{"series":"S climb","salinity":34.824,"depth":786.8},{"series":"S climb","salinity":34.832,"depth":797.4},{"series":"S climb","salinity":34.836,"depth":808.1},{"series":"S climb","salinity":34.840,"depth":818.8},{"series":"S climb","salinity":34.845,"depth":829.4},{"series":"S climb","salinity":34.849,"depth":840.1},{"series":"S climb","salinity":34.857,"depth":850.8},{"series":"S climb","salinity":34.861,"depth":861.4},{"series":"S climb","salinity":34.882,"depth":871.0},{"series":"S climb","salinity":34.903,"depth":877.4},{"series":"S climb","salinity":34.920,"depth":884.9},{"series":"S climb","salinity":34.933,"depth":892.3},{"series":"S climb","salinity":34.941,"depth":898.7},
      {"series":"S climb","salinity":35.300,"depth":507},{"series":"S climb","salinity":35.283,"depth":514},{"series":"S climb","salinity":35.273,"depth":522},{"series":"S climb","salinity":35.258,"depth":533},{"series":"S climb","salinity":35.231,"depth":545},{"series":"S climb","salinity":35.203,"depth":556},{"series":"S climb","salinity":35.174,"depth":566},{"series":"S climb","salinity":35.138,"depth":576},{"series":"S climb","salinity":35.111,"depth":590},{"series":"S climb","salinity":35.100,"depth":600},{"series":"S climb","salinity":35.086,"depth":610},{"series":"S climb","salinity":35.069,"depth":620},{"series":"S climb","salinity":35.048,"depth":631},{"series":"S climb","salinity":35.027,"depth":640},{"series":"S climb","salinity":35.006,"depth":648},{"series":"S climb","salinity":34.985,"depth":658},{"series":"S climb","salinity":34.964,"depth":667},{"series":"S climb","salinity":34.939,"depth":678},{"series":"S climb","salinity":34.922,"depth":690},{"series":"S climb","salinity":34.916,"depth":700},{"series":"S climb","salinity":34.907,"depth":711},{"series":"S climb","salinity":34.905,"depth":726},{"series":"S climb","salinity":34.888,"depth":734},{"series":"S climb","salinity":34.862,"depth":742},{"series":"S climb","salinity":34.842,"depth":750},{"series":"S climb","salinity":34.832,"depth":760},{"series":"S climb","salinity":34.826,"depth":771},{"series":"S climb","salinity":34.828,"depth":781},{"series":"S climb","salinity":34.828,"depth":792},{"series":"S climb","salinity":34.834,"depth":803},{"series":"S climb","salinity":34.838,"depth":813},{"series":"S climb","salinity":34.842,"depth":824},{"series":"S climb","salinity":34.847,"depth":835},{"series":"S climb","salinity":34.853,"depth":845},{"series":"S climb","salinity":34.859,"depth":856},{"series":"S climb","salinity":34.870,"depth":866},{"series":"S climb","salinity":34.893,"depth":874},{"series":"S climb","salinity":34.912,"depth":881},{"series":"S climb","salinity":34.927,"depth":888},{"series":"S climb","salinity":34.937,"depth":896}
    ]
  },
  "layer": [
    {
      "data": {"name": "temp"},
      "mark": {"type": "point", "filled": false, "size": 64, "strokeWidth": 1.2},
      "encoding": {
        "x": {"field": "temperature", "type": "quantitative",
          "scale": {"domain": [6, 30], "nice": false, "zero": false},
          "axis": {"orient": "top", "title": "Temperature (°C)", "values": [6,8,10,12,14,16,18,20,22,24,26,28,30],
            "grid": true, "gridColor": "#ff0000", "gridDash": [2, 10], "gridWidth": 1.2, "gridOpacity": 0.8,
            "domainColor": "#ff0000", "tickColor": "#ff0000", "labelColor": "#ff0000", "titleColor": "#ff0000", "labelPadding": 14, "titlePadding": 20}},
        "y": {"field": "depth", "type": "quantitative",
          "scale": {"domain": [0, 1000], "reverse": true, "nice": false, "zero": false},
          "axis": {"orient": "left", "title": "Depth (m)", "values": [0,100,200,300,400,500,600,700,800,900,1000], "format": "d",
            "grid": true, "gridColor": "#000000", "gridDash": [2, 10], "gridWidth": 1.2, "gridOpacity": 0.8,
            "domainColor": "#000000", "tickColor": "#000000", "labelColor": "#000000", "titleColor": "#000000", "titlePadding": 17}},
        "color": {"field": "series", "type": "nominal",
          "scale": {"domain": ["T dive", "T climb"], "range": ["#ff0000", "#ff00ff"]},
          "legend": {"title": null, "orient": "none", "legendX": 13, "legendY": 12, "strokeColor": "#000000", "fillColor": "#ffffff", "padding": 8, "symbolOffset": 34, "labelOffset": 34, "labelFontSize": 26, "labelFont": "Liberation Sans", "labelColor": "#000000", "rowPadding": 8, "symbolSize": 50, "symbolStrokeWidth": 1.2, "labelLimit": 400}},
        "shape": {"field": "series", "type": "nominal",
          "scale": {"domain": ["T dive", "T climb"], "range": ["triangle-down", "triangle-up"]},
          "legend": {"title": null, "orient": "none", "legendX": 13, "legendY": 12, "strokeColor": "#000000", "fillColor": "#ffffff", "padding": 8, "symbolOffset": 34, "labelOffset": 34, "labelFontSize": 26, "labelFont": "Liberation Sans", "labelColor": "#000000", "rowPadding": 8, "symbolSize": 50, "symbolStrokeWidth": 1.2, "labelLimit": 400}}
      }
    },
    {
      "data": {"name": "sal"},
      "mark": {"type": "point", "filled": false, "size": 64, "strokeWidth": 1.2},
      "encoding": {
        "x": {"field": "salinity", "type": "quantitative",
          "scale": {"domain": [33, 38], "nice": false, "zero": false},
          "axis": {"orient": "bottom", "title": "Salinity (PSU)", "values": [33, 33.416667, 33.833333, 34.25, 34.666667, 35.083333, 35.5, 35.916667, 36.333333, 36.75, 37.166667, 37.583333, 38],
            "format": ".4~f", "grid": false,
            "domainColor": "#0000ff", "tickColor": "#0000ff", "labelColor": "#0000ff", "titleColor": "#0000ff", "labelPadding": 21, "titlePadding": 6}},
        "y": {"field": "depth", "type": "quantitative",
          "scale": {"domain": [0, 1000], "reverse": true, "nice": false, "zero": false},
          "axis": {"orient": "right", "title": null, "values": [0,100,200,300,400,500,600,700,800,900,1000], "format": "d", "grid": false,
            "domainColor": "#000000", "tickColor": "#000000", "labelColor": "#000000"}},
        "color": {"field": "series", "type": "nominal",
          "scale": {"domain": ["S dive", "S climb"], "range": ["#0000ff", "#00ffff"]},
          "legend": {"title": null, "orient": "none", "legendX": 977, "legendY": 852, "strokeColor": "#000000", "fillColor": "#ffffff", "padding": 8, "symbolOffset": 34, "labelOffset": 34, "labelFontSize": 26, "labelFont": "Liberation Sans", "labelColor": "#000000", "rowPadding": 8, "symbolSize": 50, "symbolStrokeWidth": 1.2, "labelLimit": 400}},
        "shape": {"field": "series", "type": "nominal",
          "scale": {"domain": ["S dive", "S climb"], "range": ["triangle-down", "triangle-up"]},
          "legend": {"title": null, "orient": "none", "legendX": 977, "legendY": 852, "strokeColor": "#000000", "fillColor": "#ffffff", "padding": 8, "symbolOffset": 34, "labelOffset": 34, "labelFontSize": 26, "labelFont": "Liberation Sans", "labelColor": "#000000", "rowPadding": 8, "symbolSize": 50, "symbolStrokeWidth": 1.2, "labelLimit": 400}}
      }
    },
    {
      "data": {"values": [{}]},
      "mark": {"type": "text", "text": "p6100636", "align": "left", "baseline": "middle", "fontSize": 26, "font": "Liberation Sans", "color": "#000000"},
      "encoding": {
        "x": {"datum": 33, "type": "quantitative", "scale": {"domain": [33, 38], "nice": false, "zero": false}, "axis": null},
        "y": {"datum": -50, "type": "quantitative", "scale": {"domain": [0, 1000], "reverse": true, "nice": false, "zero": false}, "axis": null}
      }
    },
    {
      "data": {"values": [{}]},
      "mark": {"type": "text", "text": "Serial #: 266\u00a0 CAL: 09−Jun−2016", "align": "left", "baseline": "middle", "fontSize": 26, "font": "Liberation Sans", "color": "#000000"},
      "encoding": {
        "x": {"datum": 36.029, "type": "quantitative", "scale": {"domain": [33, 38], "nice": false, "zero": false}, "axis": null},
        "y": {"datum": -50, "type": "quantitative", "scale": {"domain": [0, 1000], "reverse": true, "nice": false, "zero": false}, "axis": null}
      }
    },
    {
      "data": {"values": [{}]},
      "mark": {"type": "text", "text": "15−Oct−2017 02:50:25", "align": "left", "baseline": "middle", "fontSize": 26, "font": "Liberation Sans", "color": "#000000"},
      "encoding": {
        "x": {"datum": 33, "type": "quantitative", "scale": {"domain": [33, 38], "nice": false, "zero": false}, "axis": null},
        "y": {"datum": 1100, "type": "quantitative", "scale": {"domain": [0, 1000], "reverse": true, "nice": false, "zero": false}, "axis": null}
      }
    },
    {
      "data": {"values": [{}]},
      "mark": {"type": "text", "text": "SG610 Mission 7 Jul 2017 15−Oct−2017 01:52:56Z", "align": "left", "baseline": "middle", "fontSize": 26, "font": "Liberation Sans", "color": "#000000"},
      "encoding": {
        "x": {"datum": 34.996, "type": "quantitative", "scale": {"domain": [33, 38], "nice": false, "zero": false}, "axis": null},
        "y": {"datum": 1100, "type": "quantitative", "scale": {"domain": [0, 1000], "reverse": true, "nice": false, "zero": false}, "axis": null}
      }
    }
  ],
  "resolve": {"scale": {"x": "independent", "y": "independent", "color": "independent", "shape": "independent"}}
}
